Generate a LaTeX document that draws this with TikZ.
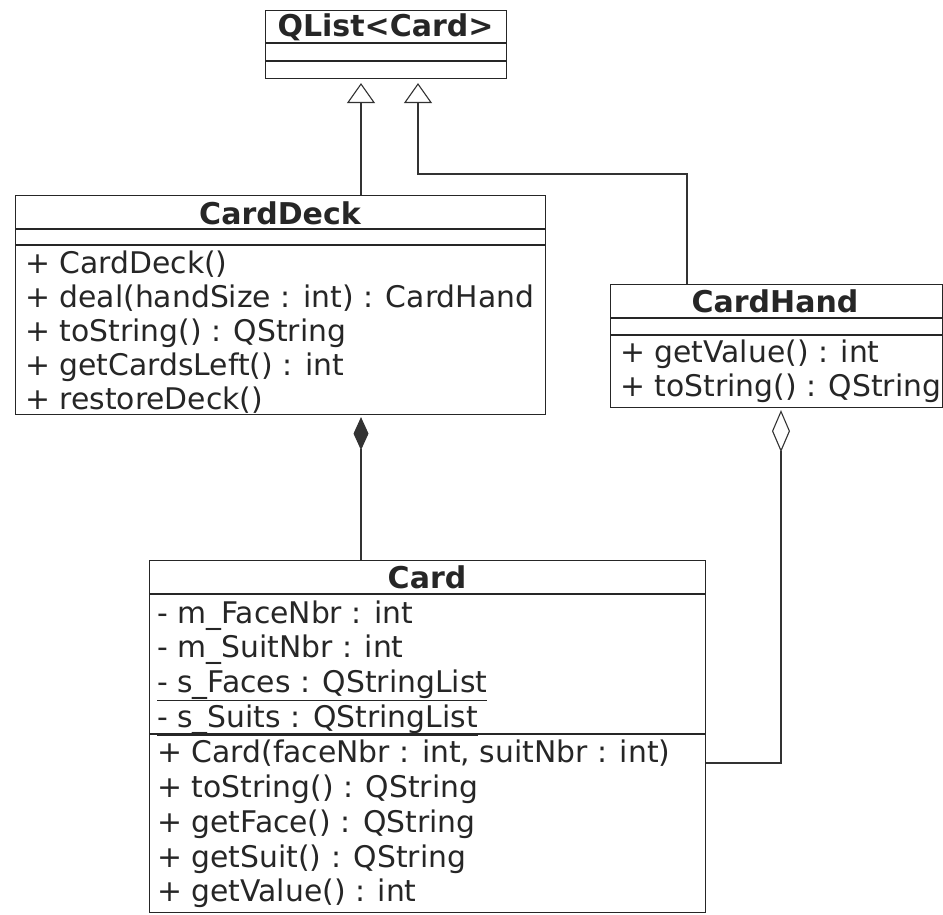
\documentclass[tikz,border=0pt]{standalone}
\usepackage{fontspec}
\setmainfont{DejaVu Sans}
\usetikzlibrary{arrows.meta}

\tikzset{
  classbox/.style={draw=black!85, line width=1.1pt, anchor=north west, inner sep=0pt},
  compline/.style={draw=black!85, line width=1.1pt},
  classname/.style={font=\bfseries\fontsize{30}{34}\selectfont, text=black!85, inner sep=0pt, anchor=center},
  member/.style={font=\fontsize{29.8}{34}\selectfont, text=black!85, inner sep=0pt, anchor=base west},
  connector/.style={draw=black!80, line width=1.1pt},
  inherit/.style={connector, -{Triangle[open, length=20pt, width=28pt, line width=1.1pt]}, shorten >=4pt},
  compose/.style={connector, {Diamond[length=33pt, width=15pt]}-, shorten <=2pt},
  aggregate/.style={connector, {Diamond[open, length=42pt, width=18pt, line width=1.1pt]}-, shorten <=2pt},
}

\begin{document}
\begin{tikzpicture}[x=1pt, y=-1pt]
  \useasboundingbox (0,0) rectangle (943,915);
  \fill[white] (0,0) rectangle (943,915);

  % QList<Card>
  \node[classbox, minimum width=241pt, minimum height=68pt] (qlist) at (265,10) {};
  \node[classname] (qlistname) at (385.5,27) {QList<Card>};
  \draw[compline] (qlist.west |- 0,43) -- (qlist.east |- 0,43);
  \draw[compline] (qlist.west |- 0,61) -- (qlist.east |- 0,61);

  % CardDeck
  \node[classbox, minimum width=530pt, minimum height=219pt] (deck) at (15,195) {};
  \node[classname] (deckname) at (280,213) {CardDeck};
  \draw[compline] (deck.west |- 0,229) -- (deck.east |- 0,229);
  \draw[compline] (deck.west |- 0,245) -- (deck.east |- 0,245);
  \node[member] (d1) at (25,273) {+ CardDeck()};
  \node[member] (d2) at (25,307) {+ deal(handSize : int) : CardHand};
  \node[member] (d3) at (25,341) {+ toString() : QString};
  \node[member] (d4) at (25,375) {+ getCardsLeft() : int};
  \node[member] (d5) at (25,409) {+ restoreDeck()};

  % CardHand
  \node[classbox, minimum width=332pt, minimum height=123pt] (hand) at (610,284) {};
  \node[classname] (handname) at (775,301) {CardHand};
  \draw[compline] (hand.west |- 0,318) -- (hand.east |- 0,318);
  \draw[compline] (hand.west |- 0,335) -- (hand.east |- 0,335);
  \node[member] (h1) at (620,362) {+ getValue() : int};
  \node[member] (h2) at (620,396) {+ toString() : QString};

  % Card
  \node[classbox, minimum width=556pt, minimum height=352pt] (card) at (149,560) {};
  \node[classname] (cardname) at (427,577) {Card};
  \draw[compline] (card.west |- 0,594) -- (card.east |- 0,594);
  \draw[compline] (card.west |- 0,734) -- (card.east |- 0,734);
  \node[member] (a1) at (157,623) {- m\_FaceNbr : int};
  \node[member] (a2) at (157,657) {- m\_SuitNbr : int};
  \node[member] (a3) at (157,692) {\underline{- s\_Faces : QStringList}};
  \node[member] (a4) at (157,727) {\underline{- s\_Suits : QStringList}};
  \node[member] (m1) at (157,762) {+ Card(faceNbr : int, suitNbr : int)};
  \node[member] (m2) at (157,797) {+ toString() : QString};
  \node[member] (m3) at (157,832) {+ getFace() : QString};
  \node[member] (m4) at (157,867) {+ getSuit() : QString};
  \node[member] (m5) at (157,901) {+ getValue() : int};

  % connector routing points
  \coordinate (deckx) at (361,0);
  \coordinate (handx) at (687,0);
  \coordinate (handbend) at (418,174);
  \coordinate (aggbend) at (781,763);

  % generalisation
  \draw[inherit] (deck.north -| deckx) -- (qlist.south -| deckx);
  \draw[inherit] (hand.north -| handx) |- (handbend) -- (qlist.south -| handbend);

  % composition and aggregation
  \draw[compose] (deck.south -| deckx) -- (card.north -| deckx);
  \draw[aggregate] (hand.south -| aggbend) |- (card.east |- aggbend);
\end{tikzpicture}
\end{document}
